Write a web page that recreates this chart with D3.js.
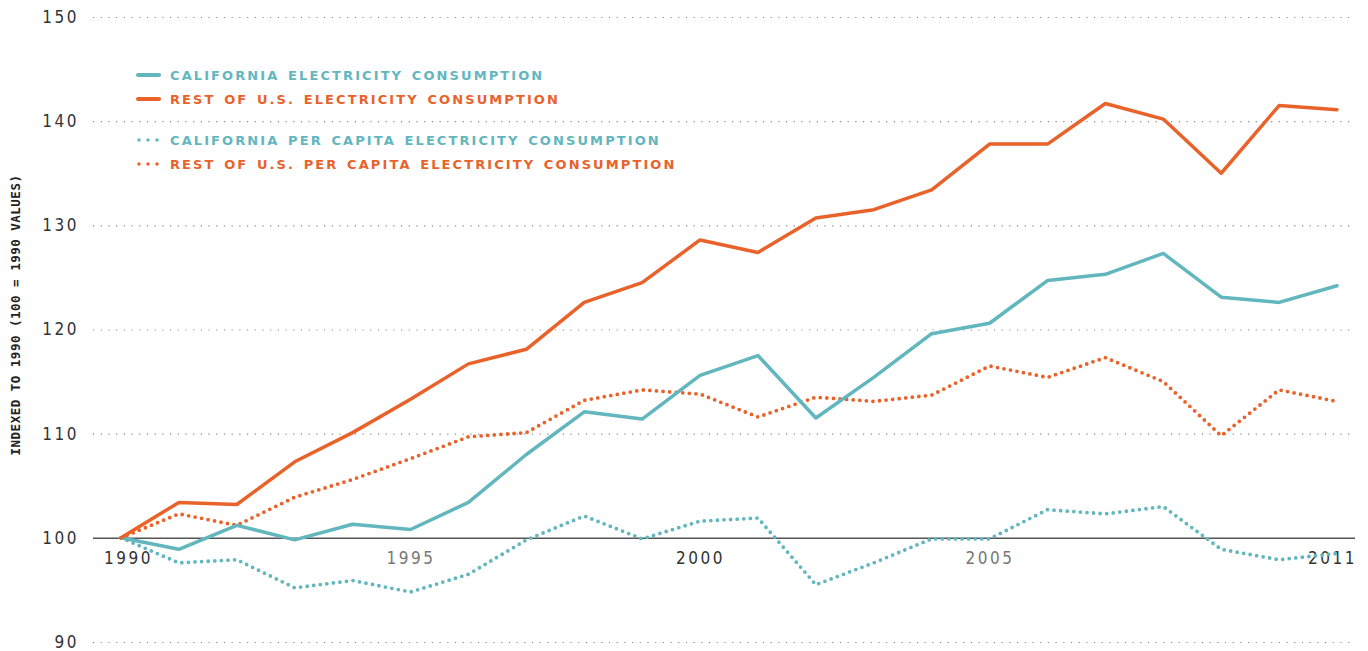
<!DOCTYPE html>
<html>
<head>
<meta charset="utf-8">
<script src="https://cdn.jsdelivr.net/npm/d3@7"></script>
<style>
  body { margin: 0; background: #fff; }
  .tick text { font-family: "Liberation Sans Narrow", "DejaVu Sans Condensed", sans-serif; }
  .legend text { font-family: "DejaVu Sans", sans-serif; font-weight: bold; }
</style>
</head>
<body>
<script>
// data
var years = d3.range(1990, 2012);
var caTotal = [100, 98.9, 101.2, 99.8, 101.3, 100.8, 103.4, 108.0, 112.1, 111.4, 115.6,
               117.5, 111.5, 115.4, 119.6, 120.6, 124.7, 125.3, 127.3, 123.1, 122.6, 124.2];
var usTotal = [100, 103.4, 103.2, 107.3, 110.1, 113.3, 116.7, 118.1, 122.6, 124.5, 128.6,
               127.4, 130.7, 131.5, 133.4, 137.8, 137.8, 141.7, 140.2, 135.0, 141.5, 141.1];
var caCapita = [100, 97.6, 97.9, 95.2, 95.9, 94.8, 96.5, 99.8, 102.1, 99.9, 101.6,
                101.9, 95.5, 97.6, 99.9, 99.9, 102.7, 102.3, 103.0, 98.9, 97.9, 98.5];
var usCapita = [100, 102.3, 101.2, 103.9, 105.6, 107.6, 109.7, 110.1, 113.2, 114.2, 113.8,
                111.6, 113.5, 113.1, 113.7, 116.5, 115.4, 117.3, 115.0, 109.8, 114.2, 113.1];
var yTicks = [90, 100, 110, 120, 130, 140, 150];
var xTicks = [1990, 1995, 2000, 2005, 2011];
var seriesNames = ["CALIFORNIA ELECTRICITY CONSUMPTION",
                   "REST OF U.S. ELECTRICITY CONSUMPTION",
                   "CALIFORNIA PER CAPITA ELECTRICITY CONSUMPTION",
                   "REST OF U.S. PER CAPITA ELECTRICITY CONSUMPTION"];

var fullWidth = 1368;
var fullHeight = 651;
var teal = "#62b6be";
var orange = "#e8622a";

var svg = d3.select("body").append("svg")
            .attr("width", fullWidth)
            .attr("height", fullHeight);

var xScale = d3.scaleLinear().domain([1990, 2011]).range([121, 1337]);
var yScale = d3.scaleLinear().domain([90, 150]).range([642, 17]);

// horizontal grid lines (dotted) and y labels
var yAxis = svg.append("g")
    .attr("transform", "translate(93,0)")
    .call(d3.axisLeft(yScale).tickValues(yTicks).tickSize(0).tickPadding(14)
            .tickFormat(d3.format("d")));
yAxis.select(".domain").remove();
yAxis.selectAll("text")
     .attr("font-size", 17)
     .attr("fill", "#333")
     .attr("letter-spacing", "2.5px");
yAxis.selectAll(".tick").append("line")
     .attr("x1", 0)
     .attr("x2", 1262)
     .attr("stroke", function(d) { return d == 100 ? "#555" : "#888"; })
     .attr("stroke-width", function(d) { return d == 100 ? 1.5 : 1.2; })
     .attr("stroke-dasharray", function(d) { return d == 100 ? null : "1.2 6.5"; });

// x labels below the 100 line
var xAxis = svg.append("g")
    .attr("transform", "translate(0," + yScale(100) + ")")
    .call(d3.axisBottom(xScale).tickValues(xTicks).tickSize(0).tickPadding(14)
            .tickFormat(d3.format("d")));
xAxis.select(".domain").remove();
xAxis.selectAll("text")
     .attr("font-size", 17)
     .attr("letter-spacing", "2.5px")
     .attr("fill", function(d) { return d % 10 == 5 ? "#777" : "#333"; })
     .attr("dx", function(d) { return d == 1990 ? 7 : (d == 2011 ? -5 : 0); });

// y axis title
svg.append("text")
   .attr("transform", "translate(20,315) rotate(-90)")
   .attr("text-anchor", "middle")
   .attr("font-family", "DejaVu Sans Mono, monospace")
   .attr("font-weight", "bold")
   .attr("font-size", 12.5)
   .attr("letter-spacing", "0.5px")
   .attr("fill", "#222")
   .text("INDEXED TO 1990 (100 = 1990 VALUES)");

var line = d3.line()
    .x(function(d, i) { return xScale(years[i]); })
    .y(function(d) { return yScale(d); });

var series = [
    {values: caTotal, color: teal, dotted: false},
    {values: usTotal, color: orange, dotted: false},
    {values: caCapita, color: teal, dotted: true},
    {values: usCapita, color: orange, dotted: true}
];

// draw dotted first, solid on top
[2, 3, 0, 1].forEach(function(k) {
    var s = series[k];
    svg.append("path")
       .datum(s.values)
       .attr("d", line)
       .attr("fill", "none")
       .attr("stroke", s.color)
       .attr("stroke-width", s.dotted ? 3.8 : 3.5)
       .attr("stroke-linecap", "round")
       .attr("stroke-linejoin", "round")
       .attr("stroke-dasharray", s.dotted ? "0 6.6" : null);
});

// legend
var legendY = [75, 99, 140, 164];
var legend = svg.selectAll(".legend")
    .data(series)
    .enter()
    .append("g")
    .attr("class", "legend")
    .attr("transform", function(d, i) { return "translate(138," + legendY[i] + ")"; });

legend.append("line")
      .attr("x1", function(d) { return d.dotted ? 1 : 0; })
      .attr("x2", 21)
      .attr("stroke", function(d) { return d.color; })
      .attr("stroke-width", function(d) { return d.dotted ? 3.5 : 4; })
      .attr("stroke-linecap", "round")
      .attr("stroke-dasharray", function(d) { return d.dotted ? "0 9" : null; });

legend.append("text")
      .attr("x", 32)
      .attr("dy", "0.35em")
      .attr("font-size", 13)
      .attr("letter-spacing", "2.1px")
      .attr("word-spacing", "2px")
      .attr("fill", function(d) { return d.color; })
      .text(function(d, i) { return seriesNames[i]; });
</script>
</body>
</html>
